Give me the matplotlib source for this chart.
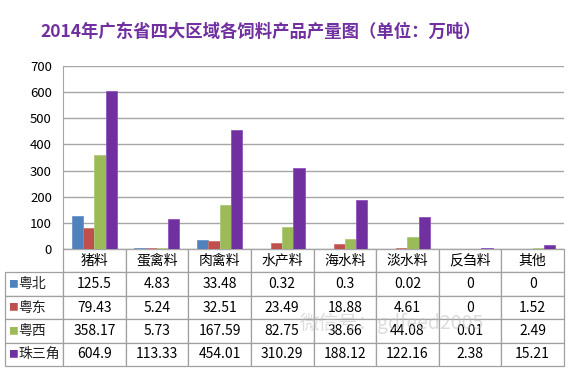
import matplotlib
matplotlib.use("Agg")
import matplotlib.pyplot as plt
import numpy as np

plt.rcParams['font.family'] = ['Noto Sans CJK SC', 'DejaVu Sans']

title = "2014年广东省四大区域各饲料产品产量图（单位：万吨）"
categories = ["猪料", "蛋禽料", "肉禽料", "水产料", "海水料", "淡水料", "反刍料", "其他"]
regions = ["粤北", "粤东", "粤西", "珠三角"]
yuebei = [125.5, 4.83, 33.48, 0.32, 0.3, 0.02, 0, 0]
yuedong = [79.43, 5.24, 32.51, 23.49, 18.88, 4.61, 0, 1.52]
yuexi = [358.17, 5.73, 167.59, 82.75, 38.66, 44.08, 0.01, 2.49]
zhusanjiao = [604.9, 113.33, 454.01, 310.29, 188.12, 122.16, 2.38, 15.21]
series = [yuebei, yuedong, yuexi, zhusanjiao]
colors = ["#4F81BD", "#C0504D", "#9BBB59", "#7030A0"]
edges = ["#6A95CC", "#D07270", "#AECB78", "#8E55BE"]

W, H = 568, 372
fig = plt.figure(figsize=(W / 100, H / 100), dpi=100)

# plot area in pixels
px0, px1, py_top, py_bot = 63, 564, 66, 249
ax = fig.add_axes([px0 / W, (H - py_bot) / H, (px1 - px0) / W, (py_bot - py_top) / H])

x = np.arange(len(categories))
bw = 0.18
for i, (vals, c, ec) in enumerate(zip(series, colors, edges)):
    ax.bar(x + (i - 1.5) * bw, vals, bw, color=c, edgecolor=ec, linewidth=0.6, zorder=3)

ax.set_xlim(-0.5, len(categories) - 0.5)
ax.set_ylim(0, 700)
ax.set_yticks(range(0, 701, 100))
ax.tick_params(axis='y', length=0, labelsize=9.5, pad=8)
ax.set_xticks([])
ax.yaxis.grid(True, color="#A6A6A6", linewidth=1)
for s in ["top", "right"]:
    ax.spines[s].set_visible(False)
ax.spines["left"].set_color("#A6A6A6")
ax.spines["bottom"].set_color("#A6A6A6")

fig.text(261 / W, 1 - 32 / H, title, ha="center", va="center", fontsize=12.5,
         fontweight="bold", color="#7030A0")

# data table under the plot
cell_text = [[""] + categories]
for vals in series:
    cell_text.append([""] + [f"{v:g}" for v in vals])

tx0, tx1, ty_top, ty_bot = 5, 564, 249, 366
bbox = [(tx0 - px0) / (px1 - px0), (py_bot - ty_bot) / (py_bot - py_top),
        (tx1 - tx0) / (px1 - px0), (ty_bot - ty_top) / (py_bot - py_top)]
col_w = [58] + [(px1 - px0) / len(categories)] * len(categories)
tbl = ax.table(cellText=cell_text, colWidths=col_w, bbox=bbox, cellLoc="center")
tbl.auto_set_font_size(False)
tbl.set_fontsize(10)
for (r, c), cell in tbl.get_celld().items():
    cell.set_edgecolor("#A0A0A0")
    cell.set_linewidth(0.9)
tbl[0, 0].visible_edges = "open"

# row labels with colour keys
row_h = (ty_bot - ty_top) / 5
for i, (name, c) in enumerate(zip(regions, colors)):
    yc = ty_top + row_h * (i + 1.5)
    fig.text(8 / W, 1 - yc / H, "■", color=c, fontsize=7, ha="left", va="center")
    fig.text(18 / W, 1 - yc / H, name, color="#222222", fontsize=10, ha="left", va="center")

# watermark
fig.text(300 / W, 1 - 323 / H, "微信号：gdfeed2005", fontsize=14, color="#BBBBBB",
         alpha=0.5, ha="left", va="center")

fig.savefig("out.png", dpi=100)
